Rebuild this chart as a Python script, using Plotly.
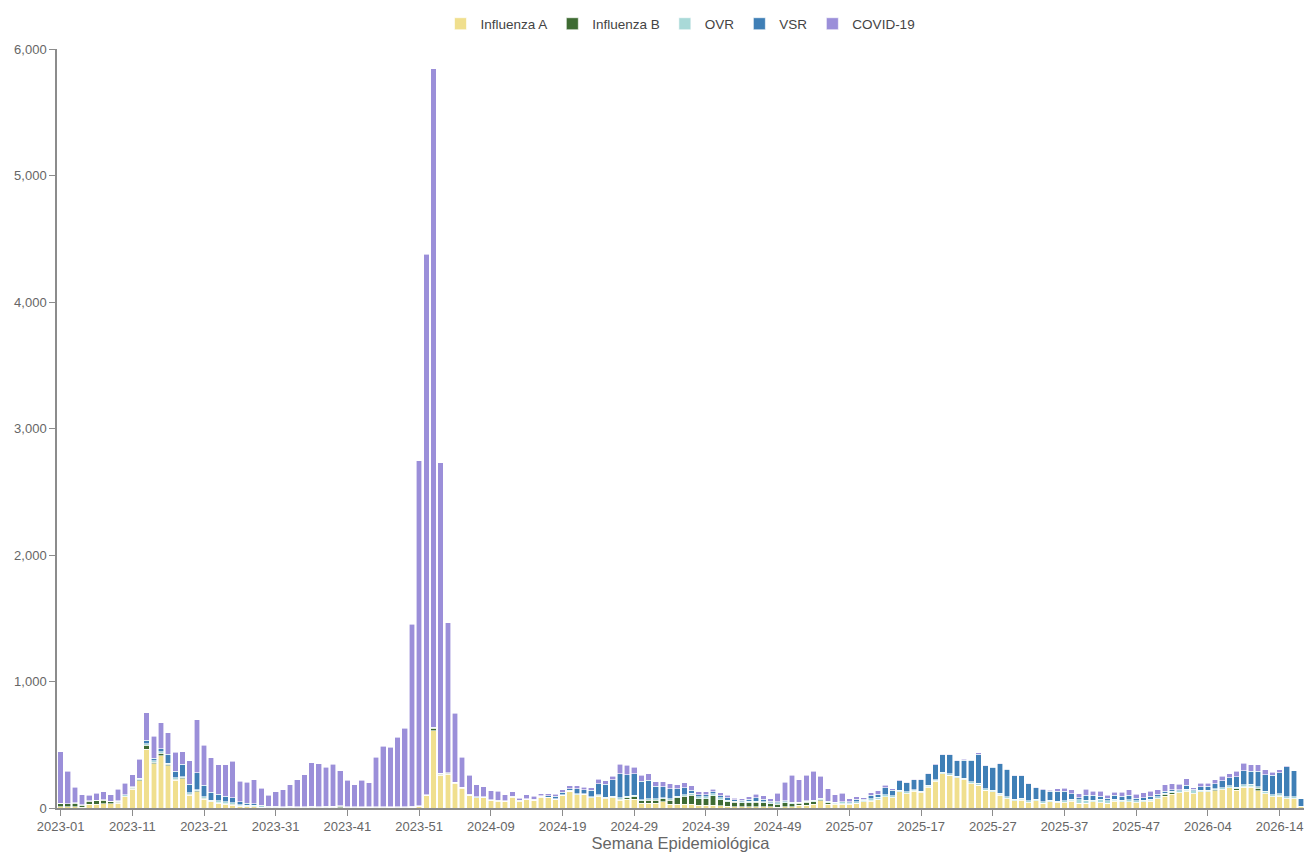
import plotly.graph_objects as go

# ---- categories (epidemiological weeks) ----
weeks_per_year = [(2023, 52), (2024, 52), (2025, 53), (2026, 17)]
weeks = [f"{y}-{w:02d}" for y, n in weeks_per_year for w in range(1, n + 1)]

# ---- series values (cases per week) ----
influenza_a = [
    10, 10, 10, 5, 28, 30, 32, 35, 38, 90, 150, 215, 465, 348, 413, 335, 218, 231, 101, 127,
    68, 50, 36, 31, 23, 15, 10, 8, 5, 3, 2, 2, 2, 2, 2, 2, 2, 2, 2, 2,
    2, 2, 2, 2, 2, 2, 2, 3, 3, 5, 12, 99, 611, 260, 268, 195, 156, 99, 81, 81,
    60, 55, 52, 86, 55, 68, 60, 86, 81, 68, 99, 133, 104, 107, 81, 94, 73, 81, 60, 68,
    68, 36, 36, 36, 49, 31, 31, 31, 29, 23, 23, 23, 18, 12, 8, 8, 8, 10, 10, 8,
    5, 10, 10, 23, 23, 31, 57, 31, 31, 31, 31, 36, 49, 55, 68, 88, 83, 127, 114, 133,
    122, 166, 213, 270, 257, 239, 224, 192, 179, 140, 127, 101, 75, 57, 62, 42, 57, 36, 49, 42,
    42, 55, 36, 36, 49, 42, 36, 55, 49, 49, 42, 49, 55, 75, 94, 109, 120, 133, 114, 127,
    127, 135, 146, 159, 140, 166, 166, 135, 114, 88, 94, 75, 75, 8,
]
influenza_b = [
    25, 22, 28, 18, 25, 28, 28, 15, 8, 4, 6, 8, 30, 12, 18, 12, 10, 10, 8, 10,
    8, 3, 5, 3, 8, 3, 3, 2, 2, 2, 3, 3, 4, 3, 3, 3, 3, 4, 5, 12,
    3, 3, 2, 2, 2, 2, 2, 2, 2, 2, 2, 3, 20, 8, 5, 3, 3, 2, 2, 2,
    1, 1, 1, 1, 1, 1, 1, 1, 1, 1, 1, 1, 2, 2, 2, 2, 3, 3, 10, 15,
    20, 21, 26, 26, 23, 31, 52, 62, 73, 52, 52, 75, 49, 39, 36, 33, 35, 35, 30, 25,
    25, 30, 22, 13, 23, 18, 8, 10, 3, 2, 2, 2, 2, 2, 2, 2, 2, 2, 2, 2,
    2, 2, 2, 2, 2, 2, 2, 2, 2, 2, 2, 2, 2, 2, 2, 2, 2, 2, 2, 2,
    2, 2, 2, 2, 2, 2, 2, 2, 2, 2, 2, 2, 2, 2, 14, 10, 3, 3, 3, 3,
    3, 8, 3, 3, 13, 3, 3, 23, 3, 3, 3, 3, 3, 2,
]
ovr = [
    3, 3, 3, 2, 3, 3, 5, 5, 8, 10, 8, 8, 12, 12, 12, 8, 12, 8, 10, 8,
    12, 10, 15, 15, 10, 8, 8, 10, 10, 5, 5, 5, 5, 5, 5, 6, 5, 5, 5, 3,
    4, 3, 3, 3, 5, 4, 3, 3, 3, 4, 3, 3, 5, 5, 5, 5, 4, 4, 4, 3,
    3, 3, 3, 3, 3, 3, 4, 4, 4, 4, 5, 5, 5, 5, 6, 10, 10, 10, 10, 10,
    12, 10, 13, 13, 10, 13, 10, 13, 13, 15, 15, 13, 15, 12, 8, 8, 10, 10, 10, 8,
    10, 8, 8, 8, 8, 8, 10, 8, 10, 15, 10, 12, 10, 18, 14, 13, 10, 12, 12, 8,
    10, 10, 10, 10, 12, 10, 11, 12, 16, 12, 12, 12, 12, 10, 12, 12, 10, 12, 12, 10,
    14, 12, 28, 25, 12, 25, 18, 12, 12, 16, 12, 12, 14, 12, 10, 14, 15, 12, 20, 12,
    12, 8, 12, 12, 12, 15, 18, 12, 16, 12, 14, 12, 12, 5,
]
vsr = [
    0, 0, 0, 0, 0, 0, 0, 0, 2, 2, 5, 5, 30, 22, 27, 70, 50, 95, 70, 135,
    90, 60, 52, 45, 40, 25, 15, 15, 5, 2, 2, 1, 1, 1, 1, 1, 1, 1, 1, 1,
    1, 1, 1, 1, 1, 1, 1, 1, 1, 1, 1, 1, 2, 2, 2, 2, 2, 2, 2, 2,
    2, 2, 2, 2, 2, 3, 4, 5, 10, 18, 20, 15, 43, 32, 52, 85, 100, 128, 190, 170,
    170, 146, 143, 96, 88, 78, 60, 55, 26, 16, 16, 16, 16, 18, 14, 14, 15, 25, 20, 12,
    10, 8, 5, 3, 3, 5, 3, 3, 3, 3, 5, 18, 8, 27, 26, 58, 45, 73, 70, 80,
    90, 93, 118, 138, 150, 122, 142, 172, 228, 180, 183, 235, 217, 187, 180, 135, 92, 95, 68, 78,
    75, 45, 15, 37, 37, 25, 20, 32, 30, 33, 20, 20, 22, 20, 15, 12, 8, 32, 10, 25,
    30, 40, 54, 66, 83, 112, 104, 120, 130, 155, 168, 238, 204, 58,
]
covid = [
    405, 255, 124, 80, 44, 54, 65, 51, 94, 90, 95, 150, 215, 174, 202, 169, 150, 101, 184, 418,
    318, 273, 232, 246, 288, 161, 166, 187, 136, 88, 118, 133, 172, 211, 251, 345, 340, 309, 333, 276,
    211, 176, 213, 192, 393, 480, 473, 550, 623, 1439, 2728, 4270, 5204, 2455, 1186, 544, 238, 153, 93, 81,
    72, 72, 46, 38, 17, 29, 22, 16, 16, 16, 18, 20, 20, 18, 18, 35, 30, 30, 76, 75,
    52, 44, 52, 36, 38, 39, 32, 37, 33, 21, 21, 21, 22, 20, 12, 12, 20, 29, 26, 22,
    68, 148, 212, 177, 200, 229, 172, 101, 58, 67, 27, 20, 14, 18, 25, 18, 13, 10, 7, 6,
    5, 5, 5, 6, 5, 5, 5, 5, 10, 4, 4, 4, 4, 4, 4, 4, 4, 7, 9, 20,
    25, 31, 30, 50, 34, 40, 24, 24, 32, 45, 32, 36, 40, 36, 50, 46, 40, 50, 15, 30,
    25, 32, 35, 30, 42, 58, 52, 53, 39, 26, 23, 8, 2, 2,
]

series_names = ["Influenza A", "Influenza B", "OVR", "VSR", "COVID-19"]
series_values = [influenza_a, influenza_b, ovr, vsr, covid]
series_colors = ["#F0DF8E", "#3E6B33", "#A9D9D8", "#3F7FB6", "#9B8FD9"]

y_ticks = [0, 1000, 2000, 3000, 4000, 5000, 6000]
tick_labels = weeks[::10]

fig = go.Figure()
for name, vals, col in zip(series_names, series_values, series_colors):
    fig.add_trace(go.Bar(
        x=weeks, y=vals, name=name,
        marker=dict(color=col, line=dict(color="white", width=0.6)),
        hovertemplate="%{x}<br>" + name + ": %{y:,}<extra></extra>",
    ))

axis_col = "#8c8c8c"
font_col = "#666666"

fig.update_layout(
    width=1296, height=845,
    barmode="stack",
    bargap=0.22,
    plot_bgcolor="white",
    paper_bgcolor="white",
    font=dict(family="Liberation Sans, Arial, Helvetica, sans-serif", size=13, color=font_col),
    margin=dict(l=49, r=0, t=31, b=45, pad=0),
    showlegend=True,
    legend=dict(
        orientation="h", x=0.5, xanchor="center", y=1.033, yanchor="middle",
        font=dict(size=13.5, color="#444444"), traceorder="normal",
        bgcolor="rgba(0,0,0,0)",
    ),
    xaxis=dict(
        type="category", categoryorder="array", categoryarray=weeks,
        range=[-0.5, 173.4],
        tickmode="array", tickvals=tick_labels, ticktext=tick_labels,
        ticks="outside", ticklen=6, tickcolor=axis_col, tickangle=0,
        showline=True, linecolor=axis_col, linewidth=1.5,
        showgrid=False, zeroline=False, automargin=False,
        tickfont=dict(size=13, color=font_col),
        title=dict(text="Semana Epidemiológica", font=dict(size=16.5, color=font_col), standoff=4),
    ),
    yaxis=dict(
        range=[0, 6000],
        tickmode="array", tickvals=y_ticks,
        tickformat=",",
        ticks="outside", ticklen=6, tickcolor=axis_col,
        showline=True, linecolor=axis_col, linewidth=1.5,
        showgrid=False, zeroline=False, automargin=False,
        tickfont=dict(size=13, color=font_col),
    ),
)

fig.write_html("out.html")
